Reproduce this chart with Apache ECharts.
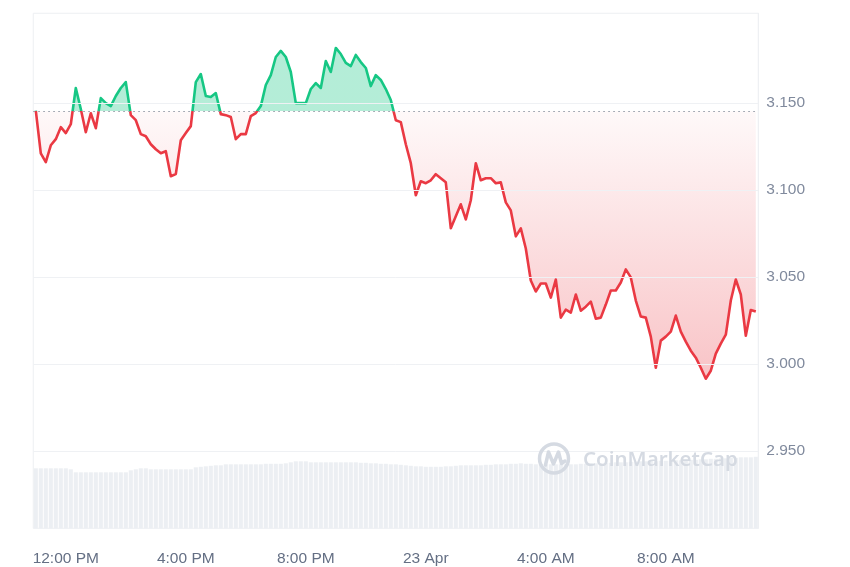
<!DOCTYPE html>
<html><head><meta charset="utf-8">
<script src="https://cdn.jsdelivr.net/npm/echarts@6/dist/echarts.min.js"></script>
<style>html,body{margin:0;padding:0;background:#fff}#c{width:850px;height:567px}</style>
</head><body><div id="c"></div>
<script>
// ---- data ----
const startMinutes = 11 * 60;   // 22 Apr, 11:00
const stepMinutes = 10;
const price = [
3.1455,3.1210,3.1159,3.1256,3.1291,3.1360,3.1326,3.1377,3.1585,3.1464,
3.1331,3.1440,3.1354,3.1527,3.1498,3.1481,3.1539,3.1585,3.1619,3.1429,
3.1400,3.1320,3.1308,3.1262,3.1233,3.1210,3.1222,3.1078,3.1090,3.1285,
3.1326,3.1366,3.1619,3.1665,3.1539,3.1533,3.1556,3.1435,3.1429,3.1418,
3.1291,3.1320,3.1320,3.1423,3.1441,3.1481,3.1602,3.1659,3.1763,3.1798,
3.1763,3.1677,3.1498,3.1498,3.1498,3.1579,3.1613,3.1585,3.1740,3.1677,
3.1815,3.1780,3.1729,3.1711,3.1775,3.1734,3.1700,3.1596,3.1659,3.1631,
3.1579,3.1516,3.1400,3.1389,3.1262,3.1153,3.0969,3.1049,3.1038,3.1055,
3.1090,3.1067,3.1043,3.0779,3.0848,3.0917,3.0830,3.0940,3.1153,3.1055,
3.1067,3.1067,3.1038,3.1043,3.0928,3.0882,3.0733,3.0779,3.0663,3.0479,
3.0416,3.0462,3.0462,3.0381,3.0485,3.0266,3.0312,3.0295,3.0399,3.0306,
3.0329,3.0358,3.0260,3.0266,3.0341,3.0422,3.0422,3.0468,3.0543,3.0497,
3.0364,3.0272,3.0266,3.0157,2.9978,3.0134,3.0157,3.0186,3.0278,3.0186,
3.0128,3.0076,3.0036,2.9978,2.9915,2.9961,3.0059,3.0117,3.0168,3.0364,
3.0485,3.0399,3.0162,3.0310,3.0301
];
const volume = [
60,60,60,60,60,60,60,59,56,56,
56,56,56,56,56,56,56,56,56,58,
59,60,60,59,59,59,59,59,59,59,
59,59,61,61.5,62,62.5,63,63,64,64,
64,64,64,64,64,64,64.5,64.5,64.5,64.5,
65,66,67,67,67,66,66,66,66,66,
66,66,66,66,66,65.5,65.5,65,65,64.5,
64.5,64,64,63.5,63,62.5,62,62,61.5,61.5,
61.5,61.5,62,62,62.5,63,63,63,63,63,
63.5,63.5,64,64,64,64.5,64.5,65,64.5,64.5,
64,64,64,64,64,64,64,64,64,64.5,
64.5,65,65,65,65.5,65.5,66,66,66,66.5,
66.5,67,67,67,67,67.5,67.5,67.5,68,68,
68,68.5,68.5,69,69,69.5,69.5,70,70,70.5,
70.5,71,71,71,71.5
];
const baseline = 3.1452;
const yTicks = [2.95, 3.00, 3.05, 3.10, 3.15];
const xTickLabels = {'12:00':'12:00 PM','16:00':'4:00 PM','20:00':'8:00 PM','00:00':'23 Apr','04:00':'4:00 AM','08:00':'8:00 AM'};
const yMin = 2.9056, yMax = 3.2014;
const volMax = 515;

const categories = price.map(function (_, i) {
  const m = (startMinutes + i * stepMinutes) % 1440;
  return String(Math.floor(m / 60)).padStart(2, '0') + ':' + String(m % 60).padStart(2, '0');
});

// ---- layout / style ----
const GREEN = '#16c784', RED = '#ea3943';
const gridTop = 13.3, gridBottomPx = 528.3, W = 850, H = 567;
const f = (yMax - baseline) / (yMax - yMin);
const fDeep = (yMax - 2.99) / (yMax - yMin);
const FONT = '"Liberation Sans", Arial, sans-serif';

const lineColor = {type:'linear', x:0, y:gridTop, x2:0, y2:gridBottomPx, global:true,
  colorStops:[{offset:0,color:GREEN},{offset:f,color:GREEN},{offset:f,color:RED},{offset:1,color:RED}]};
const areaColor = {type:'linear', x:0, y:gridTop, x2:0, y2:gridBottomPx, global:true,
  colorStops:[
    {offset:0,color:'rgba(22,199,132,0.32)'},{offset:f,color:'rgba(22,199,132,0.32)'},
    {offset:f,color:'rgba(234,57,67,0.03)'},{offset:fDeep,color:'rgba(234,57,67,0.30)'},
    {offset:1,color:'rgba(234,57,67,0.30)'}]};

const chart = echarts.init(document.getElementById('c'), null, {renderer:'canvas'});
chart.setOption({
  animation: false,
  backgroundColor: '#ffffff',
  grid: {left: 33.3, right: W - 758.3, top: gridTop, bottom: H - gridBottomPx,
         show: true, borderColor: '#eef0f3', borderWidth: 1, backgroundColor: 'transparent'},
  xAxis: {
    type: 'category', data: categories, boundaryGap: true,
    axisLine: {show: false}, axisTick: {show: false}, splitLine: {show: false},
    axisLabel: {
      interval: function (i, v) { return Object.prototype.hasOwnProperty.call(xTickLabels, v); },
      formatter: function (v) { return xTickLabels[v] || ''; },
      color: '#646f84', fontSize: 15.5, fontFamily: FONT, margin: 22
    }
  },
  yAxis: [{
    type: 'value', position: 'right', min: yMin, max: yMax, splitNumber: 5,
    splitLine: {show: false}, axisTick: {show: false},
    axisLine: {show: true, lineStyle: {color: '#eef0f3'}},
    axisLabel: {
      formatter: function (v) { return yTicks.some(function (t) { return Math.abs(t - v) < 1e-6; }) ? v.toFixed(3) : ''; },
      color: '#808a9d', fontSize: 15.5, fontFamily: FONT, margin: 8
    }
  }, {
    type: 'value', min: 0, max: volMax, show: false, splitLine: {show: false}
  }],
  graphic: [
    {type: 'circle', z: 10, shape: {cx: 554, cy: 458.5, r: 14.5},
     style: {fill: 'none', stroke: '#d5dae2', lineWidth: 3.5}},
    {type: 'polyline', z: 10, shape: {points: [[545.5,465],[548.5,452],[553.5,464],[558.5,452],[561.5,463.5],[565,461]]},
     style: {fill: 'none', stroke: '#d5dae2', lineWidth: 3.5, lineJoin: 'round', lineCap: 'round'}},
    {type: 'text', z: 10, style: {x: 583, y: 460, text: 'CoinMarketCap', fill: '#d5dae2',
      fontSize: 20.5, fontWeight: 600, fontFamily: '"Noto Sans", sans-serif', verticalAlign: 'middle'}}
  ],
  series: [
    {
      type: 'bar', data: volume, yAxisIndex: 1, barCategoryGap: '18%', z: 1, silent: true,
      itemStyle: {color: '#eceff3'}
    },
    {
      type: 'line', data: [], yAxisIndex: 0, z: 1, silent: true,
      markLine: {silent: true, precision: 6, symbol: ['none','none'], label: {show: false},
        lineStyle: {color: '#eff1f4', type: 'solid', width: 1},
        data: yTicks.map(function (v) { return {yAxis: v}; })}
    },
    {
      type: 'line', data: price, yAxisIndex: 0, z: 3, symbol: 'none', smooth: false,
      lineStyle: {width: 2.6, color: lineColor, join: 'round'},
      itemStyle: {color: RED},
      areaStyle: {origin: baseline, color: areaColor, opacity: 1},
      markLine: {silent: true, precision: 6, symbol: ['none','none'], label: {show: false},
        lineStyle: {color: '#8f96a3', type: [1.5, 3.5], width: 1.2},
        data: [{yAxis: baseline}]}
    }
  ]
});
</script></body></html>
